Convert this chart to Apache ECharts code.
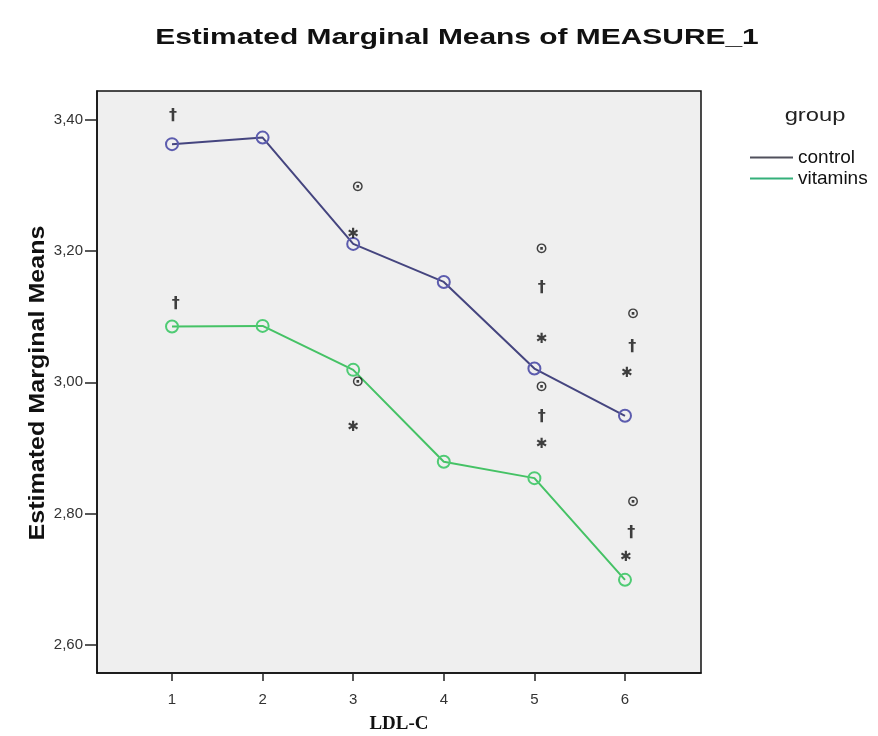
<!DOCTYPE html>
<html>
<head>
<meta charset="utf-8">
<script src="https://cdn.jsdelivr.net/npm/echarts@6/dist/echarts.min.js"></script>
<style>
html,body{margin:0;padding:0;background:#fff;}
#chart{width:878px;height:736px;}
</style>
</head>
<body>
<div id="chart"></div>
<script>
// ---- data ----
var ldlLevels = [1, 2, 3, 4, 5, 6];
var controlMeans = [3.363, 3.373, 3.211, 3.153, 3.021, 2.949];
var vitaminsMeans = [3.085, 3.086, 3.019, 2.879, 2.854, 2.699];
var yTicks = [2.6, 2.8, 3.0, 3.2, 3.4];
// significance marks: x position (LDL-C level), y value, glyph
var markX = [1.01, 1.04, 3.05, 3.05, 3.00, 3.00, 5.08, 5.08, 5.08, 5.08, 5.08, 5.08, 6.09, 6.08, 6.02, 6.09, 6.07, 6.01];
var markY = [3.406, 3.120, 3.298, 3.000, 3.226, 2.931, 3.203, 3.144, 3.065, 2.993, 2.947, 2.906, 3.104, 3.054, 3.013, 2.818, 2.771, 2.733];
var markGlyph = ['†', '†', '⊙', '⊙', '✱', '✱', '⊙', '†', '✱', '⊙', '†', '✱', '⊙', '†', '✱', '⊙', '†', '✱'];

var glyphStyle = { '†': 'dag', '⊙': 'odot', '✱': 'ast' };

function pairs(xs, ys) { return xs.map(function (x, i) { return [x, ys[i]]; }); }

var chart = echarts.init(document.getElementById('chart'));
chart.setOption({
  animation: false,
  backgroundColor: '#ffffff',
  legend: {
    orient: 'vertical',
    left: 745,
    top: 143,
    itemWidth: 43,
    itemHeight: 2,
    itemGap: 2,
    icon: 'rect',
    textStyle: { fontFamily: 'Liberation Sans, Arial, sans-serif', fontSize: 19, color: '#111' },
    data: [
      { name: 'control', itemStyle: { color: '#50505c', borderColor: '#50505c', borderWidth: 0 } },
      { name: 'vitamins', itemStyle: { color: '#34b07a', borderColor: '#34b07a', borderWidth: 0 } }
    ]
  },
  graphic: [
    {
      type: 'text', x: 457, y: 38, scaleX: 1.36,
      style: {
        text: 'Estimated Marginal Means of MEASURE_1', align: 'center', verticalAlign: 'middle',
        fontFamily: 'Liberation Sans, Arial, sans-serif', fontWeight: 'bold', fontSize: 22, fill: '#111'
      }
    },
    {
      type: 'text', x: 38, y: 383, rotation: Math.PI / 2, scaleX: 1.14,
      style: {
        text: 'Estimated Marginal Means', align: 'center', verticalAlign: 'middle',
        fontFamily: 'Liberation Sans, Arial, sans-serif', fontWeight: 'bold', fontSize: 22, fill: '#111'
      }
    },
    {
      type: 'text', x: 815, y: 116, scaleX: 1.25,
      style: {
        text: 'group', align: 'center', verticalAlign: 'middle',
        fontFamily: 'Liberation Sans, Arial, sans-serif', fontSize: 19, fill: '#222'
      }
    }
  ],
  grid: {
    left: 97, right: 177, top: 91, bottom: 63,
    outerBoundsMode: 'none',
    containLabel: false,
    show: true, backgroundColor: '#efefef', borderColor: '#111', borderWidth: 1.5
  },
  xAxis: {
    type: 'value',
    min: 0.172, max: 6.839,
    name: 'LDL-C',
    nameLocation: 'middle',
    nameGap: 42,
    nameTextStyle: { fontFamily: 'Liberation Serif, Times New Roman, serif', fontWeight: 'bold', fontSize: 19, color: '#111' },
    axisLine: { show: true, lineStyle: { color: '#111', width: 1.5 } },
    axisTick: { show: true, length: 8, customValues: ldlLevels, lineStyle: { color: '#222', width: 1.5 } },
    axisLabel: { customValues: ldlLevels, fontFamily: 'Liberation Sans, Arial, sans-serif', fontSize: 15, color: '#333', margin: 19 },
    splitLine: { show: false }
  },
  yAxis: {
    type: 'value',
    min: 2.557, max: 3.444,
    axisLine: { show: true, lineStyle: { color: '#111', width: 1.5 } },
    axisTick: { show: true, length: 12, customValues: yTicks, lineStyle: { color: '#222', width: 1.5 } },
    axisLabel: {
      customValues: yTicks,
      fontFamily: 'Liberation Sans, Arial, sans-serif', fontSize: 15, color: '#333', margin: 14,
      formatter: function (v) { return v.toFixed(2).replace('.', ','); }
    },
    splitLine: { show: false }
  },
  series: [
    {
      name: 'control', type: 'line',
      data: pairs(ldlLevels, controlMeans),
      symbol: 'circle', symbolSize: 12,
      lineStyle: { color: '#45457f', width: 2 },
      itemStyle: { color: 'rgba(239,239,239,0)', borderColor: '#5c5cae', borderWidth: 2 },
      z: 3
    },
    {
      name: 'vitamins', type: 'line',
      data: pairs(ldlLevels, vitaminsMeans),
      symbol: 'circle', symbolSize: 12,
      lineStyle: { color: '#45c265', width: 2 },
      itemStyle: { color: 'rgba(239,239,239,0)', borderColor: '#4fcb74', borderWidth: 2 },
      z: 3
    },
    {
      name: 'marks', type: 'scatter',
      data: pairs(markX, markY),
      symbolSize: 1,
      itemStyle: { color: 'rgba(0,0,0,0)' },
      label: {
        show: true, position: 'inside',
        formatter: function (p) { var g = markGlyph[p.dataIndex]; return '{' + glyphStyle[g] + '|' + g + '}'; },
        rich: {
          dag: { fontFamily: 'DejaVu Sans, sans-serif', fontSize: 16, fontWeight: 'bold', color: '#111' },
          odot: { fontFamily: 'DejaVu Sans, sans-serif', fontSize: 15, fontWeight: 'bold', color: '#111' },
          ast: { fontFamily: 'DejaVu Sans, sans-serif', fontSize: 14, fontWeight: 'bold', color: '#111' }
        }
      },
      silent: true,
      z: 4
    }
  ]
});
</script>
</body>
</html>
